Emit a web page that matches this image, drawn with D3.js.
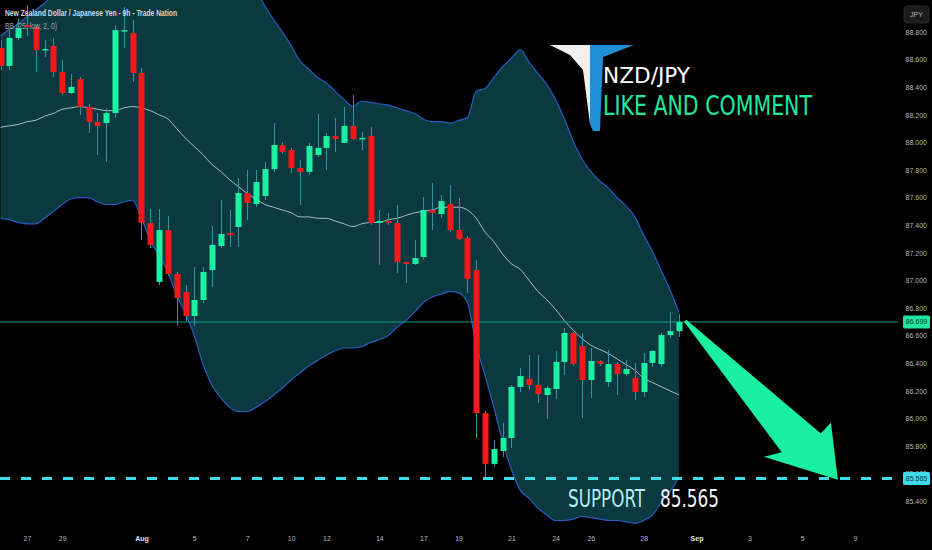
<!DOCTYPE html>
<html><head><meta charset="utf-8">
<script src="https://cdn.jsdelivr.net/npm/d3@7"></script>
<style>html,body{margin:0;padding:0;background:#000;}svg{display:block;}</style>
</head><body>
<svg id="chart" width="932" height="550"></svg>
<script>
// ---- DATA (NZD/JPY, 9h bars) ----
const open = [
88.684,88.554,88.757,88.851,88.836,88.670,88.699,88.510,88.358,88.460,
88.257,88.148,88.141,88.213,88.807,88.793,88.503,87.416,86.989,87.365,
87.046,86.916,86.742,86.858,87.075,87.249,87.344,87.387,87.633,87.554,
87.612,87.807,87.981,87.945,87.815,87.786,87.909,87.960,88.046,87.996,
88.119,88.025,88.046,87.416,87.431,87.416,87.133,87.119,87.170,87.510,
87.481,87.554,87.365,87.307,87.075,86.039,85.670,85.764,85.858,86.228,
86.286,86.242,86.170,86.213,86.409,86.619,86.525,86.278,86.416,86.264,
86.394,86.322,86.293,86.191,86.402,86.394,86.604,86.633];
const close = [
88.554,88.757,88.829,88.836,88.670,88.677,88.510,88.358,88.402,88.257,
88.148,88.119,88.213,88.814,88.814,88.503,87.416,87.257,87.365,87.046,
86.873,86.742,86.858,87.061,87.257,87.336,87.329,87.633,87.561,87.713,
87.807,87.981,87.931,87.815,87.786,87.974,87.960,88.046,88.025,88.119,
88.025,88.032,87.416,87.431,87.416,87.133,87.119,87.162,87.510,87.489,
87.575,87.365,87.300,87.010,86.039,85.670,85.778,85.858,86.228,86.307,
86.242,86.177,86.220,86.409,86.619,86.394,86.278,86.416,86.394,86.394,
86.322,86.358,86.191,86.402,86.489,86.604,86.633,86.699];
const high = [
88.742,88.814,88.901,88.996,88.851,88.742,88.757,88.597,88.496,88.474,
88.278,88.213,88.249,88.851,88.981,88.887,88.539,87.518,87.518,87.467,
87.061,86.967,87.097,87.097,87.394,87.583,87.510,87.742,87.800,87.800,
87.858,88.141,88.003,87.960,87.873,87.996,88.206,88.068,88.177,88.257,
88.344,88.075,88.112,87.510,87.489,87.546,87.133,87.293,87.604,87.706,
87.619,87.691,87.597,87.322,87.148,86.054,85.844,85.967,86.242,86.365,
86.460,86.460,86.235,86.489,86.655,86.626,86.619,86.510,86.423,86.496,
86.409,86.423,86.402,86.474,86.496,86.619,86.771,86.757];
const low = [
88.525,88.525,88.742,88.771,88.510,88.619,88.474,88.344,88.351,88.199,
88.068,87.909,87.858,88.177,88.684,88.438,87.293,87.235,86.967,87.032,
86.670,86.706,86.670,86.836,86.952,87.235,87.242,87.242,87.438,87.532,
87.583,87.786,87.916,87.778,87.546,87.764,87.894,87.800,87.931,87.996,
88.018,87.945,87.402,87.112,87.402,87.054,86.981,87.112,87.148,87.365,
87.452,87.351,87.293,86.909,85.858,85.568,85.648,85.720,85.786,86.191,
86.206,86.112,85.996,86.141,86.315,86.380,86.003,86.148,86.380,86.228,
86.170,86.307,86.133,86.155,86.373,86.373,86.583,86.590];
// Bollinger Bands (25, low, 2)
const bbUpper = [
88.77,88.82,88.86,88.91,88.96,89.01,89.07,89.10,89.14,89.16,
89.18,89.19,89.19,89.19,89.21,89.24,89.26,89.29,89.30,89.31,
89.31,89.32,89.34,89.43,89.43,89.42,89.37,89.31,89.22,89.10,
88.99,88.89,88.80,88.70,88.59,88.53,88.47,88.43,88.37,88.31,
88.26,88.30,88.29,88.28,88.27,88.25,88.23,88.21,88.17,88.15,
88.15,88.14,88.16,88.18,88.37,88.39,88.47,88.55,88.61,88.67,
88.58,88.50,88.42,88.31,88.17,88.01,87.88,87.79,87.72,87.67,
87.60,87.54,87.46,87.33,87.21,87.07,86.93,86.77];
const bbMiddle = [
88.11,88.12,88.13,88.15,88.16,88.19,88.21,88.24,88.25,88.26,
88.25,88.24,88.23,88.23,88.25,88.26,88.25,88.23,88.20,88.17,
88.10,88.03,87.97,87.91,87.84,87.79,87.73,87.68,87.63,87.59,
87.55,87.53,87.51,87.49,87.46,87.46,87.45,87.45,87.43,87.41,
87.39,87.41,87.42,87.42,87.44,87.45,87.47,87.49,87.50,87.51,
87.53,87.53,87.53,87.51,87.45,87.35,87.28,87.19,87.12,87.08,
87.00,86.92,86.86,86.79,86.71,86.64,86.58,86.53,86.50,86.47,
86.43,86.39,86.35,86.29,86.26,86.23,86.20,86.17];
const bbLower = [
87.45,87.44,87.42,87.41,87.41,87.45,87.50,87.55,87.59,87.60,
87.60,87.57,87.55,87.55,87.57,87.58,87.45,87.29,87.18,87.06,
86.89,86.76,86.60,86.39,86.24,86.15,86.08,86.05,86.05,86.08,
86.12,86.17,86.22,86.28,86.33,86.38,86.42,86.46,86.49,86.51,
86.51,86.52,86.55,86.57,86.60,86.66,86.71,86.77,86.84,86.88,
86.90,86.92,86.91,86.84,86.53,86.31,86.08,85.83,85.63,85.48,
85.42,85.35,85.30,85.26,85.26,85.27,85.29,85.28,85.27,85.26,
85.26,85.25,85.24,85.26,85.30,85.39,85.47,85.57];
const priceTicks = [85.4,85.6,85.8,86.0,86.2,86.4,86.6,86.8,87.0,87.2,87.4,87.6,87.8,88.0,88.2,88.4,88.6,88.8];
const dateLabels = ["27","29","Aug","5","7","10","12","14","17","19","21","24","26","28","Sep","3","5","9"];
const dateLabelBars = [3,7,16,22,28,33,37,43,48,52,58,63,67,73,79,85,91,97];
const monthLabels = ["Aug","Sep"];
const lastPrice = 86.699;
const supportPrice = 85.565;
const arrowFrom = {bar: 77.6, price: 86.70};
const arrowTo = {bar: 95.05, price: 85.555};

// ---- LAYOUT ----
const W = 932, H = 550;
const plotRight = 898, plotBottom = 528;
const svg = d3.select("#chart");
svg.append("rect").attr("width", W).attr("height", H).attr("fill", "#000");

const x = d3.scaleLinear().domain([0, 97]).range([0.5, 0.5 + 8.81 * 97]);
const y = d3.scaleLinear().domain([85.2058, 89.0319]).range([plotBottom, 0]);

const defs = svg.append("defs");
defs.append("clipPath").attr("id", "plotClip")
  .append("rect").attr("x", 0).attr("y", 0).attr("width", plotRight).attr("height", plotBottom);

const plot = svg.append("g").attr("clip-path", "url(#plotClip)");
const idx = d3.range(open.length);

// Bollinger band fill
const area = d3.area().curve(d3.curveMonotoneX)
  .x(i => x(i)).y0(i => y(bbLower[i])).y1(i => y(bbUpper[i]));
plot.append("path").datum(idx).attr("d", area).attr("fill", "#0a3a3f");
const lineOf = arr => d3.line().curve(d3.curveMonotoneX).x(i => x(i)).y(i => y(arr[i]));
plot.append("path").datum(idx).attr("d", lineOf(bbUpper)).attr("fill", "none").attr("stroke", "#2a5cc0").attr("stroke-width", 1.2);
plot.append("path").datum(idx).attr("d", lineOf(bbLower)).attr("fill", "none").attr("stroke", "#2a5cc0").attr("stroke-width", 1.2);
plot.append("path").datum(idx).attr("d", lineOf(bbMiddle)).attr("fill", "none").attr("stroke", "#a7bcc0").attr("stroke-width", 1);

// current price line
plot.append("line").attr("x1", 0).attr("x2", plotRight).attr("y1", y(lastPrice)).attr("y2", y(lastPrice))
  .attr("stroke", "#1f9a84").attr("stroke-width", 1);

// candles
const up = "#1cf0a2", dn = "#f3181a", wick = "#2f93a6";
const cg = plot.append("g");
cg.selectAll("line.w").data(idx).join("line").attr("class", "w")
  .attr("x1", i => Math.round(x(i)) + 0.5).attr("x2", i => Math.round(x(i)) + 0.5)
  .attr("y1", i => y(high[i])).attr("y2", i => y(low[i]))
  .attr("stroke", wick).attr("stroke-width", 1);
cg.selectAll("rect.b").data(idx).join("rect").attr("class", "b")
  .attr("x", i => Math.round(x(i)) - 2.5).attr("width", 6)
  .attr("y", i => y(Math.max(open[i], close[i])))
  .attr("height", i => Math.max(1.5, Math.abs(y(open[i]) - y(close[i]))))
  .attr("fill", i => close[i] >= open[i] ? up : dn);

// support dashed line
plot.append("line").attr("x1", 0).attr("x2", plotRight).attr("y1", y(supportPrice)).attr("y2", y(supportPrice))
  .attr("stroke", "#40dcea").attr("stroke-width", 3).attr("stroke-dasharray", "10 11");

// arrow
(function(){
  const tx = x(arrowFrom.bar), ty = y(arrowFrom.price);
  const hx = x(arrowTo.bar), hy = y(arrowTo.price);
  const dx = hx - tx, dy = hy - ty, L = Math.hypot(dx, dy);
  const ux = dx / L, uy = dy / L, nx = -uy, ny = ux;
  const P = (a, b) => [hx + ux * a + nx * b, hy + uy * a + ny * b];
  const pts = [[tx, ty], P(-59, 21), P(-68, 37), [hx, hy], P(-46, -35), P(-45, -20), [tx - nx * 3, ty - ny * 3]];
  plot.append("polygon").attr("points", pts.map(p => p.join(",")).join(" ")).attr("fill", "#1af09f");
})();

// SUPPORT text
const sup = plot.append("g").attr("font-family", "'DejaVu Sans Condensed','DejaVu Sans',sans-serif").attr("font-size", 24);
sup.append("text").attr("x", 568).attr("y", 507).attr("fill", "#b3ecf0").attr("textLength", 77).attr("lengthAdjust", "spacingAndGlyphs").text("SUPPORT");
sup.append("text").attr("x", 660).attr("y", 507).attr("fill", "#f4f4f4").attr("textLength", 59).attr("lengthAdjust", "spacingAndGlyphs").text(supportPrice.toFixed(3));

// logo
const logo = svg.append("g");
logo.append("polygon").attr("points", "550,45 590,45 590,124 583,70 570,55").attr("fill", "#f0f0f0");
logo.append("polygon").attr("points", "590,45 634,45 603,57 600,131 593,131 590,124").attr("fill", "#1f8fd8");
logo.append("text").attr("x", 603).attr("y", 83).attr("font-family", "'DejaVu Sans Condensed','DejaVu Sans',sans-serif")
  .attr("font-size", 21).attr("fill", "#ffffff").attr("textLength", 87).attr("lengthAdjust", "spacingAndGlyphs").text("NZD/JPY");
logo.append("text").attr("x", 603).attr("y", 115).attr("font-family", "'DejaVu Sans Condensed','DejaVu Sans',sans-serif")
  .attr("font-size", 27).attr("fill", "#1ee99f").attr("textLength", 209).attr("lengthAdjust", "spacingAndGlyphs").text("LIKE AND COMMENT");

// titles
svg.append("text").attr("x", 5).attr("y", 16).attr("font-family", "'Liberation Sans',Arial,sans-serif").attr("font-size", 8.5)
  .attr("font-weight", "bold")
  .attr("fill", "#d6d8de").attr("textLength", 172).attr("lengthAdjust", "spacingAndGlyphs")
  .text("New Zealand Dollar / Japanese Yen - 9h - Trade Nation");
svg.append("text").attr("x", 5).attr("y", 29).attr("font-family", "'Liberation Sans',Arial,sans-serif").attr("font-size", 8.5)
  .attr("fill", "#a0a3ab").attr("textLength", 52).attr("lengthAdjust", "spacingAndGlyphs")
  .text("BB (25, low, 2, 0)");

// right price axis
const yAxis = d3.axisRight(y).tickValues(priceTicks).tickSize(0).tickFormat(d3.format(".3f"));
const ya = svg.append("g").attr("transform", "translate(906,0)").call(yAxis);
ya.select(".domain").remove();
ya.selectAll("text").attr("x", 21).attr("text-anchor", "end").attr("fill", "#b4b7be")
  .attr("font-family", "'Liberation Sans',Arial,sans-serif").attr("font-size", 7);

// price label boxes
function priceBox(p, bg, fg) {
  const g = svg.append("g");
  g.append("rect").attr("x", 903).attr("y", y(p) - 6.5).attr("width", 27).attr("height", 13).attr("rx", 1.5).attr("fill", bg);
  g.append("text").attr("x", 916.5).attr("y", y(p) + 2.5).attr("text-anchor", "middle").attr("fill", fg)
    .attr("font-family", "'Liberation Sans',Arial,sans-serif").attr("font-size", 7).text(p.toFixed(3));
}
priceBox(lastPrice, "#1fe6a0", "#083a2a");
priceBox(supportPrice, "#42d8ea", "#07323c");

// currency box
svg.append("rect").attr("x", 904).attr("y", 6).attr("width", 25).attr("height", 17).attr("rx", 3)
  .attr("fill", "#1b1b1b").attr("stroke", "#333").attr("stroke-width", 0.8);
svg.append("text").attr("x", 916.5).attr("y", 17).attr("text-anchor", "middle").attr("fill", "#b0b3ba")
  .attr("font-family", "'Liberation Sans',Arial,sans-serif").attr("font-size", 7).text("JPY");

// bottom time axis
const xAxis = d3.axisBottom(x).tickValues(dateLabelBars).tickSize(0)
  .tickFormat((d, k) => dateLabels[k]);
const xa = svg.append("g").attr("transform", "translate(0,533)").call(xAxis);
xa.select(".domain").remove();
xa.selectAll("text").attr("fill", (d, k) => monthLabels.includes(dateLabels[k]) ? "#e2e4e8" : "#b4b7be")
  .attr("font-weight", (d, k) => monthLabels.includes(dateLabels[k]) ? "bold" : "normal")
  .attr("font-family", "'Liberation Sans',Arial,sans-serif").attr("font-size", 7).attr("dy", "0.71em");
</script>
</body></html>
